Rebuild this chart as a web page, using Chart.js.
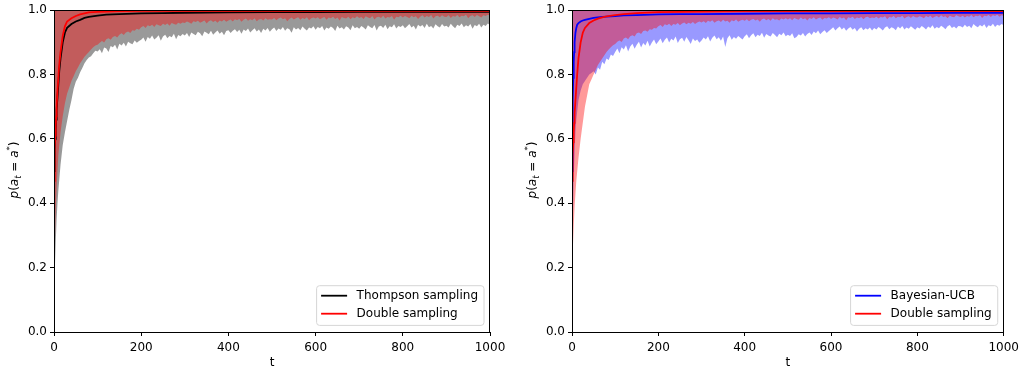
<!DOCTYPE html>
<html>
<head>
<meta charset="utf-8">
<script src="https://cdn.jsdelivr.net/npm/chart.js@4.4.0/dist/chart.umd.min.js"></script>
<style>
  body { margin: 0; background: #fff; }
  #wrap { position: relative; width: 1024px; height: 370px; }
  canvas { position: absolute; top: 0; }
</style>
</head>
<body>
<div id="wrap">
  <canvas id="left" width="512" height="370" style="left:0"></canvas>
  <canvas id="right" width="512" height="370" style="left:512px"></canvas>
</div>
<script>
var FONT = "'DejaVu Sans', sans-serif";

// mean curves (smooth, sparse grid)
var tMean = [0,1,2,3,4,5,6,8,10,12, 15,20,25,30,40,50,60,70,80,100,
  120,150,200,250,300,400,500,600,700,800, 900,1000];
var thompsonMean = [.50,.53,.57,.60,.63,.66,.69,.73,.77,.81, .85,.90,.93,.945,.957,.965,.970,.976,.979,.983,
  .986,.988,.990,.991,.992,.993,.994,.994,.995,.995, .995,.995];
var doubleMeanL = [.47,.52,.57,.61,.64,.67,.70,.75,.79,.83, .87,.92,.95,.965,.975,.982,.987,.990,.993,.995,
  .996,.997,.998,.998,.998,.998,.998,.998,.998,.998, .998,.998];
var ucbMean = [.50,.62,.72,.79,.84,.87,.90,.93,.945,.955, .960,.965,.968,.970,.973,.976,.978,.979,.980,.982,
  .984,.985,.987,.988,.988,.989,.990,.990,.991,.991, .992,.992];
var doubleMeanR = [.47,.51,.55,.59,.62,.65,.68,.72,.76,.80, .85,.90,.93,.945,.960,.968,.974,.978,.981,.985,
  .988,.991,.994,.995,.996,.997,.997,.997,.997,.997, .997,.997];

// lower edges of the shaded bands (upper edge is 1.0)
var tBand = [0,2,4,6,8,10,15,20,25,30,35,40,45,50,55,60,65,70,75,80,85,90,95,
  100,105,110,115,120,125,130,135,140,145, 150,155,160,165,170,175,180,185,190,195,
  200,205,210,215,220,225,230,235,240,245, 250,255,260,265,270,275,280,285,290,295,
  300,305,310,315,320,325,330,335,340,345, 350,355,360,365,370,375,380,385,390,395,
  400,405,410,415,420,425,430,435,440,445, 450,455,460,465,470,475,480,485,490,495,
  500,505,510,515,520,525,530,535,540,545, 550,555,560,565,570,575,580,585,590,595,
  600,605,610,615,620,625,630,635,640,645, 650,655,660,665,670,675,680,685,690,695,
  700,705,710,715,720,725,730,735,740,745, 750,755,760,765,770,775,780,785,790,795,
  800,805,810,815,820,825,830,835,840,845, 850,855,860,865,870,875,880,885,890,895,
  900,905,910,915,920,925,930,935,940,945, 950,955,960,965,970,975,980,985,990,995,
  1000];
var thompsonLow = [.10,.20,.28,.35,.40,.44,.52,.58,.62,.655,.69,.72,.755,.778,.79,.807,.82,.835,.845,.853,.857,.866,.874,
  .872,.879,.866,.884,.881,.870,.889,.885,.893,.878, .896,.890,.899,.887,.902,.897,.894,.906,.899,.904,
  .908,.915,.902,.917,.911,.921,.909,.914,.922,.905, .918,.924,.913,.920,.916,.927,.910,.923,.919,.926,
  .921,.929,.917,.931,.926,.922,.933,.928,.919,.934, .930,.925,.936,.924,.931,.937,.927,.933,.922,.935,
  .938,.929,.936,.941,.932,.939,.927,.940,.935,.943, .931,.938,.944,.934,.940,.929,.942,.937,.945,.933,
  .941,.946,.935,.943,.939,.948,.936,.944,.941,.930, .947,.940,.945,.938,.949,.942,.937,.946,.943,.950,
  .939,.948,.944,.951,.937,.946,.942,.949,.945,.935, .952,.943,.947,.940,.950,.946,.938,.953,.944,.948,
  .942,.951,.946,.940,.953,.948,.944,.954,.937,.949, .952,.945,.955,.941,.950,.947,.956,.943,.951,.948,
  .953,.944,.950,.957,.946,.952,.940,.955,.949,.954, .945,.958,.947,.951,.943,.956,.950,.946,.957,.949,
  .952,.946,.958,.950,.944,.955,.951,.959,.947,.953, .949,.957,.942,.954,.950,.958,.946,.955,.951,.959,
  .954];
var doubleLowL = [.15,.28,.38,.45,.50,.55,.62,.67,.71,.74,.76,.78,.795,.81,.822,.835,.845,.855,.863,.87,.878,.885,.89,
  .893,.899,.904,.900,.910,.913,.908,.917,.920,.915, .924,.928,.923,.931,.934,.929,.938,.936,.942,.939,
  .947,.951,.945,.953,.950,.955,.948,.956,.953,.951, .958,.954,.959,.952,.960,.957,.955,.961,.958,.962,
  .960,.965,.962,.958,.966,.963,.967,.961,.964,.968, .959,.966,.969,.963,.967,.961,.968,.965,.970,.964,
  .968,.971,.965,.972,.969,.973,.964,.970,.974,.967, .972,.969,.975,.966,.971,.973,.968,.975,.970,.972,
  .971,.976,.969,.974,.977,.972,.975,.966,.973,.977, .971,.975,.978,.970,.976,.973,.978,.969,.975,.977,
  .974,.978,.972,.976,.979,.970,.977,.975,.980,.973, .977,.968,.979,.976,.974,.980,.972,.978,.975,.981,
  .976,.979,.973,.981,.977,.975,.982,.971,.978,.980, .976,.983,.974,.979,.977,.982,.970,.980,.978,.983,
  .977,.982,.979,.975,.983,.978,.981,.973,.980,.984, .977,.982,.979,.985,.974,.981,.983,.978,.984,.980,
  .979,.984,.976,.982,.980,.985,.978,.983,.981,.986, .975,.982,.984,.979,.985,.981,.977,.984,.982,.986,
  .983];
var ucbLow = [.00,.35,.48,.56,.62,.66,.72,.75,.77,.78,.79,.80,.805,.81,.80,.822,.815,.84,.832,.85,.845,.862,.858,
  .870,.881,.866,.885,.878,.891,.872,.887,.896,.880, .893,.902,.884,.898,.890,.905,.887,.900,.909,.894,
  .903,.912,.897,.908,.915,.900,.911,.906,.918,.898, .910,.914,.902,.917,.907,.895,.912,.904,.909,.899,
  .906,.915,.909,.919,.903,.914,.921,.910,.916,.905, .918,.886,.913,.922,.908,.917,.911,.920,.914,.909,
  .919,.925,.913,.922,.928,.916,.924,.920,.930,.914, .926,.921,.918,.929,.923,.916,.927,.922,.931,.919,
  .924,.920,.928,.913,.917,.925,.921,.929,.918,.926, .931,.923,.934,.928,.937,.925,.932,.938,.929,.935,
  .941,.947,.937,.944,.949,.940,.946,.936,.943,.948, .939,.945,.934,.942,.947,.938,.944,.940,.946,.937,
  .945,.940,.948,.943,.937,.946,.950,.941,.947,.944, .938,.949,.943,.951,.940,.946,.942,.950,.945,.939,
  .947,.943,.951,.946,.940,.949,.945,.953,.942,.948, .944,.952,.947,.941,.950,.954,.945,.949,.943,.951,
  .950,.946,.955,.948,.952,.944,.957,.951,.947,.954, .949,.956,.945,.953,.950,.958,.948,.955,.952,.957,
  .953];
var doubleLowR = [.20,.26,.33,.39,.43,.47,.54,.60,.65,.70,.735,.77,.785,.80,.815,.83,.84,.85,.86,.87,.878,.885,.891,
  .895,.902,.906,.901,.912,.915,.910,.919,.922,.918, .928,.931,.926,.935,.937,.933,.941,.939,.945,.943,
  .950,.954,.948,.956,.953,.958,.951,.957,.955,.960, .953,.959,.962,.956,.961,.958,.963,.957,.962,.965,
  .962,.966,.960,.967,.964,.969,.961,.966,.968,.963, .970,.965,.967,.961,.969,.966,.971,.964,.968,.970,
  .967,.972,.966,.970,.973,.968,.971,.964,.972,.974, .969,.973,.967,.975,.970,.972,.968,.974,.971,.975,
  .971,.975,.969,.976,.973,.970,.977,.972,.975,.968, .976,.973,.978,.971,.975,.977,.970,.976,.974,.978,
  .973,.977,.975,.971,.979,.974,.977,.969,.978,.976, .980,.973,.977,.975,.979,.972,.978,.980,.975,.977,
  .976,.980,.974,.979,.977,.981,.972,.979,.977,.982, .975,.980,.978,.983,.974,.979,.981,.976,.982,.978,
  .977,.981,.979,.975,.982,.978,.983,.976,.980,.982, .977,.984,.979,.981,.975,.983,.980,.978,.984,.981,
  .979,.983,.977,.982,.980,.985,.978,.983,.981,.984, .976,.983,.981,.985,.979,.984,.982,.986,.980,.984,
  .982];

var xTickLabels = ['0', '200', '400', '600', '800', '1000'];
var yTickLabels = ['0.0', '0.2', '0.4', '0.6', '0.8', '1.0'];

function pts(ts, ys) {
  return ts.map(function (t, i) { return { x: t, y: ys[i] }; });
}

function lineSet(label, ys, color, order) {
  return {
    label: label, data: pts(tMean, ys), borderColor: color, borderWidth: 1.8,
    pointRadius: 0, fill: false, order: order, tension: 0
  };
}

function bandSet(lo, color, order) {
  return {
    data: pts(tBand, lo), borderColor: 'rgba(0,0,0,0)', borderWidth: 0,
    backgroundColor: color, pointRadius: 0, fill: 'end', order: order, tension: 0
  };
}

function drawYTitle(ctx, cx, cy) {
  var big = 12, small = 8.5;
  var parts = [
    { t: 'p', f: 'italic ' + big + 'px ' + FONT, dy: 0 },
    { t: '(', f: big + 'px ' + FONT, dy: 0 },
    { t: 'a', f: 'italic ' + big + 'px ' + FONT, dy: 0 },
    { t: 't', f: 'italic ' + small + 'px ' + FONT, dy: 2.5 },
    { t: ' = ', f: big + 'px ' + FONT, dy: 0 },
    { t: 'a', f: 'italic ' + big + 'px ' + FONT, dy: 0 },
    { t: '*', f: small + 'px ' + FONT, dy: -5 },
    { t: ')', f: big + 'px ' + FONT, dy: 0 }
  ];
  var total = 0;
  parts.forEach(function (p) { ctx.font = p.f; p.w = ctx.measureText(p.t).width; total += p.w; });
  ctx.save();
  ctx.translate(cx, cy);
  ctx.rotate(-Math.PI / 2);
  ctx.fillStyle = '#000';
  ctx.textBaseline = 'alphabetic';
  ctx.textAlign = 'left';
  var x = -total / 2;
  parts.forEach(function (p) {
    ctx.font = p.f;
    ctx.fillText(p.t, x, 4 + p.dy);
    x += p.w;
  });
  ctx.restore();
}

var decorations = {
  id: 'decorations',
  afterDraw: function (chart) {
    var ctx = chart.ctx, a = chart.chartArea;
    // frame
    ctx.save();
    ctx.strokeStyle = '#000';
    ctx.lineWidth = 1;
    ctx.strokeRect(Math.round(a.left) + 0.5, Math.round(a.top) + 0.5,
      Math.round(a.right - a.left) - 1, Math.round(a.bottom - a.top));
    ctx.restore();

    // legend
    var items = chart.data.datasets.filter(function (d) { return d.label; });
    items.sort(function (p, q) { return q.order - p.order; });
    ctx.save();
    ctx.font = '12px ' + FONT;
    var tw = 0;
    items.forEach(function (d) { tw = Math.max(tw, ctx.measureText(d.label).width); });
    var w = 4.5 + 26 + 9.5 + tw + 6, h = 39.7;
    var x0 = a.right - 6 - w, y0 = a.bottom - 6.6 - h, r = 3;
    ctx.beginPath();
    ctx.moveTo(x0 + r, y0);
    ctx.arcTo(x0 + w, y0, x0 + w, y0 + h, r);
    ctx.arcTo(x0 + w, y0 + h, x0, y0 + h, r);
    ctx.arcTo(x0, y0 + h, x0, y0, r);
    ctx.arcTo(x0, y0, x0 + w, y0, r);
    ctx.closePath();
    ctx.fillStyle = 'rgba(255,255,255,0.8)';
    ctx.fill();
    ctx.strokeStyle = '#d6d6d6';
    ctx.lineWidth = 1;
    ctx.stroke();
    items.forEach(function (d, i) {
      var y = y0 + 10 + i * 18;
      ctx.strokeStyle = d.borderColor;
      ctx.lineWidth = 1.8;
      ctx.beginPath();
      ctx.moveTo(x0 + 4.5, y);
      ctx.lineTo(x0 + 30.5, y);
      ctx.stroke();
      ctx.fillStyle = '#000';
      ctx.textBaseline = 'middle';
      ctx.fillText(d.label, x0 + 40, y + 0.5);
    });
    ctx.restore();

    drawYTitle(ctx, a.left - 40, 170);
  }
};

function makeChart(id, datasets, padLeft, padRight) {
  return new Chart(document.getElementById(id), {
    type: 'line',
    data: { datasets: datasets },
    plugins: [decorations],
    options: {
      responsive: false,
      animation: false,
      devicePixelRatio: 1,
      events: [],
      layout: { padding: { left: padLeft, right: padRight, top: 8, bottom: 0 } },
      plugins: { legend: { display: false }, tooltip: { enabled: false } },
      scales: {
        x: {
          type: 'linear', min: 0, max: 1000,
          afterFit: function (s) { s.height = 38; },
          grid: { display: true, drawOnChartArea: false, drawTicks: true, tickLength: 4, color: '#000' },
          border: { display: false },
          ticks: {
            stepSize: 200, padding: 5, color: '#000', maxRotation: 0,
            font: { family: FONT, size: 12 },
            callback: function (v) { return xTickLabels[v / 200]; }
          },
          title: { display: true, text: 't', color: '#000', font: { family: FONT, size: 12 }, padding: { top: 0, bottom: 0 } }
        },
        y: {
          min: 0, max: 1,
          afterFit: function (s) { s.width = 54; },
          grid: { display: true, drawOnChartArea: false, drawTicks: true, tickLength: 4, color: '#000' },
          border: { display: false },
          ticks: {
            stepSize: 0.2, padding: 3, color: '#000',
            font: { family: FONT, size: 12 },
            callback: function (v) { return yTickLabels[Math.round(v * 5)]; }
          }
        }
      }
    }
  });
}

makeChart('left', [
  lineSet('Thompson sampling', thompsonMean, '#000000', 1),
  lineSet('Double sampling', doubleMeanL, '#ff0000', 0),
  bandSet(thompsonLow, 'rgba(0,0,0,0.4)', 3),
  bandSet(doubleLowL, 'rgba(255,0,0,0.4)', 2)
], 0, 22);

makeChart('right', [
  lineSet('Bayesian-UCB', ucbMean, '#0000ff', 1),
  lineSet('Double sampling', doubleMeanR, '#ff0000', 0),
  bandSet(ucbLow, 'rgba(0,0,255,0.4)', 3),
  bandSet(doubleLowR, 'rgba(255,0,0,0.4)', 2)
], 6, 16);
</script>
</body>
</html>
